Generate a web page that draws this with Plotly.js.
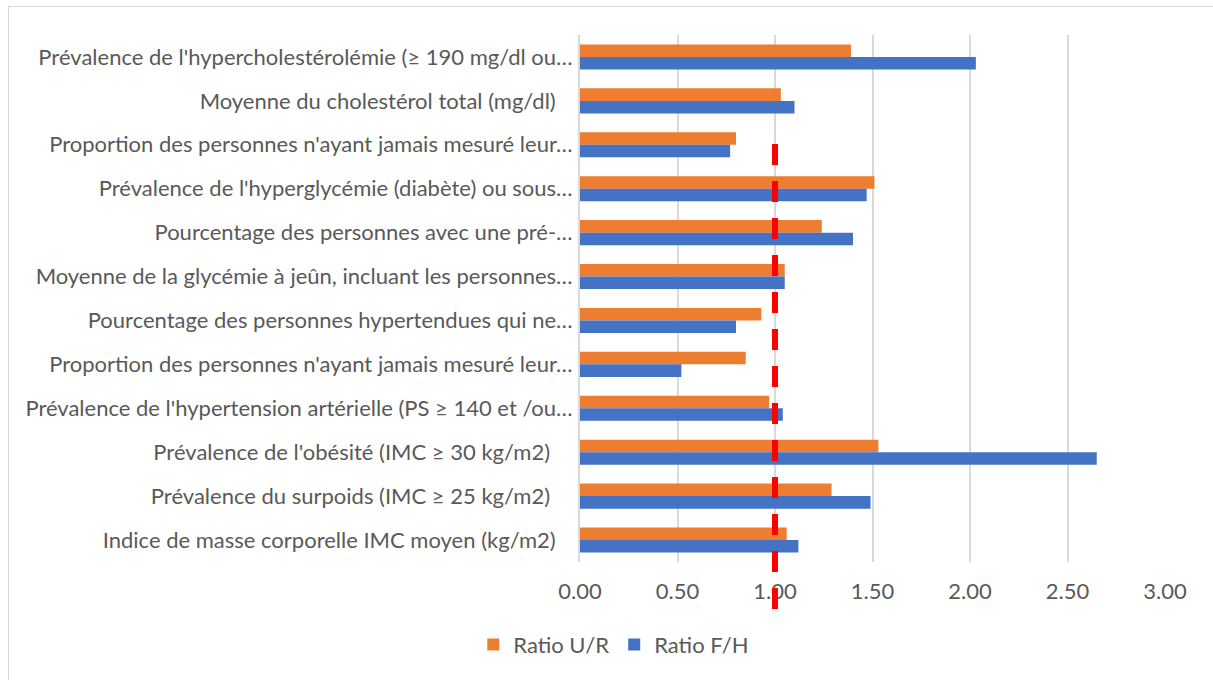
<!DOCTYPE html>
<html>
<head>
<meta charset="utf-8">
<script src="https://cdn.plot.ly/plotly-3.0.1.min.js"></script>
<style>
  html, body { margin: 0; padding: 0; background: #ffffff; overflow: hidden; }
  #frame { position: absolute; left: 8px; top: 6px; width: 1205px; height: 690px; border-left: 1px solid #d9d9d9; border-top: 1px solid #d9d9d9; box-sizing: border-box; }
  #chart { position: absolute; left: 0; top: 0; width: 1213px; height: 680px; }
</style>
</head>
<body>
<div id="frame"></div>
<div id="chart"></div>
<script>
// Categories, top to bottom as displayed
const categoryIds = ["c1","c2","c3","c4","c5","c6","c7","c8","c9","c10","c11","c12"];
const categoryLabels = [
  "Prévalence de l'hypercholestérolémie (≥ 190 mg/dl ou…",
  "Moyenne du cholestérol total (mg/dl)\u00a0\u00a0\u00a0",
  "Proportion des personnes n'ayant jamais mesuré leur…",
  "Prévalence de l'hyperglycémie (diabète) ou sous…",
  "Pourcentage des personnes avec une pré-…",
  "Moyenne de la glycémie à jeûn, incluant les personnes…",
  "Pourcentage des personnes hypertendues qui ne…",
  "Proportion des personnes n'ayant jamais mesuré leur…",
  "Prévalence de l'hypertension artérielle (PS ≥ 140 et /ou…",
  "Prévalence de l'obésité (IMC ≥ 30 kg/m2)\u00a0\u00a0\u00a0\u00a0",
  "Prévalence du surpoids (IMC ≥ 25 kg/m2)\u00a0\u00a0\u00a0\u00a0",
  "Indice de masse corporelle IMC moyen (kg/m2)\u00a0\u00a0\u00a0"
];
const ratioUR = [1.39, 1.03, 0.80, 1.51, 1.24, 1.05, 0.93, 0.85, 0.97, 1.53, 1.29, 1.06];
const ratioFH = [2.03, 1.10, 0.77, 1.47, 1.40, 1.05, 0.80, 0.52, 1.04, 2.65, 1.49, 1.12];
const seriesNames = ["Ratio U/R", "Ratio F/H"];
const xTickVals = [0, 0.5, 1, 1.5, 2, 2.5, 3];
const xTickText = ["0.00", "0.50", "1.00", "1.50", "2.00", "2.50", "3.00"];
const referenceRatio = 1.0;

const FONT = "Lato, 'Open Sans', sans-serif";
const TEXT = "#595959";
const FS = 22;

const traces = [
  { type: "bar", orientation: "h", name: seriesNames[0], x: ratioUR, y: categoryIds,
    marker: { color: "#ED7D31" }, hoverinfo: "x+name" },
  { type: "bar", orientation: "h", name: seriesNames[1], x: ratioFH, y: categoryIds,
    marker: { color: "#4472C4" }, hoverinfo: "x+name" }
];

const layout = {
  width: 1213, height: 680,
  margin: { l: 580, r: 48, t: 35, b: 118 },
  paper_bgcolor: "rgba(0,0,0,0)", plot_bgcolor: "rgba(0,0,0,0)",
  barmode: "group", bargap: 0.43, bargroupgap: 0,
  font: { family: FONT, color: TEXT, size: FS },
  xaxis: {
    range: [0, 3], tickvals: xTickVals, ticktext: xTickText,
    showgrid: true, gridcolor: "#d9d9d9", gridwidth: 2,
    zeroline: false, showline: false,
    ticks: "outside", ticklen: 10, tickcolor: "rgba(0,0,0,0)",
    tickfont: { family: FONT, color: TEXT, size: FS }, fixedrange: true
  },
  yaxis: {
    type: "category", categoryorder: "array", categoryarray: categoryIds,
    tickvals: categoryIds, ticktext: categoryLabels,
    autorange: "reversed",
    showgrid: false, zeroline: false,
    showline: true, linecolor: "#d9d9d9", linewidth: 2,
    ticks: "outside", ticklen: 1, tickcolor: "rgba(0,0,0,0)",
    tickfont: { family: FONT, color: TEXT, size: FS }, fixedrange: true
  },
  legend: {
    orientation: "h", xref: "container", yref: "container",
    x: 0.506, xanchor: "center", y: 0.052, yanchor: "middle",
    font: { family: FONT, color: TEXT, size: FS },
    itemwidth: 30, tracegroupgap: 0
  },
  shapes: [{
    type: "line", xref: "x", yref: "paper",
    x0: referenceRatio, x1: referenceRatio, y0: 0.793, y1: -0.097,
    line: { color: "#ff0000", width: 6, dash: "21px,16px" }
  }],
  showlegend: true
};

Plotly.newPlot("chart", traces, layout, { displayModeBar: false, staticPlot: true });
</script>
</body>
</html>
